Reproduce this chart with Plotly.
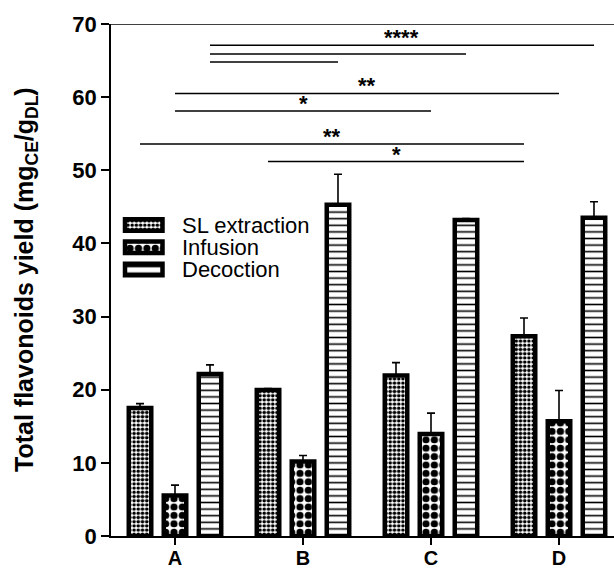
import plotly.graph_objects as go

# ---------------- data ----------------
categories = ["A", "B", "C", "D"]
series_names = ["SL extraction", "Infusion", "Decoction"]

sl_extraction = [17.5, 19.95, 21.95, 27.3]
sl_extraction_err = [0.6, 0.2, 1.75, 2.5]
infusion = [5.55, 10.2, 13.95, 15.7]
infusion_err = [1.4, 0.8, 2.85, 4.2]
decoction = [22.15, 45.3, 43.2, 43.5]
decoction_err = [1.25, 4.15, 0.2, 2.2]

y_ticks = [0, 10, 20, 30, 40, 50, 60, 70]

# significance comparisons (category, series) -> (category, series)
sig_start = [("A", "Decoction"), ("A", "Decoction"), ("A", "Decoction"),
             ("A", "Infusion"), ("A", "Infusion"),
             ("A", "SL extraction"), ("B", "SL extraction")]
sig_end = [("D", "Decoction"), ("C", "Decoction"), ("B", "Decoction"),
           ("D", "Infusion"), ("C", "Infusion"),
           ("D", "SL extraction"), ("D", "SL extraction")]
sig_labels = ["****", "", "", "**", "*", "**", "*"]
sig_levels = [67.1, 65.9, 64.8, 60.5, 58.1, 53.6, 51.2]

# ---------------- styles ----------------
FONT = "Liberation Sans, Arial, sans-serif"
W, H = 614, 568
ML, MR, MT, MB = 111, 0, 24, 32
PW, PH = W - ML - MR, H - MT - MB
LW = 4.5
BARGAP = 0.18
BARGROUPGAP = 0.357
patterns = {
    "SL extraction": dict(shape=".", size=4.2, solidity=0.55),
    "Infusion": dict(shape=".", size=8.4, solidity=0.58),
    "Decoction": dict(shape="-", size=6.6, solidity=0.24),
}
values = {"SL extraction": sl_extraction, "Infusion": infusion, "Decoction": decoction}
errors = {"SL extraction": sl_extraction_err, "Infusion": infusion_err, "Decoction": decoction_err}

def px_x(p):
    return (p - ML) / PW

def px_y(p):
    return (H - MB - p) / PH

x_idx = list(range(len(categories)))

fig = go.Figure()
for name in series_names:
    pat = patterns[name]
    fig.add_trace(go.Bar(
        x=x_idx, y=values[name], name=name, showlegend=False,
        marker=dict(color="white", line=dict(color="black", width=LW),
                    pattern=dict(shape=pat["shape"], size=pat["size"], solidity=pat["solidity"],
                                 fgcolor="black", bgcolor="white", fillmode="replace")),
        error_y=dict(type="data", array=errors[name], arrayminus=[0] * len(categories),
                     symmetric=False, color="black", thickness=1.6, width=4),
        hoverinfo="skip",
    ))

# custom legend swatches drawn as bars on a small auxiliary axis
fig.add_trace(go.Bar(
    x=[1] * len(series_names), y=series_names, orientation="h", xaxis="x2", yaxis="y2",
    width=0.52, showlegend=False, hoverinfo="skip",
    marker=dict(color="white", line=dict(color="black", width=LW),
                pattern=dict(shape=[patterns[n]["shape"] for n in series_names],
                             size=[patterns[n]["size"] for n in series_names],
                             solidity=[patterns[n]["solidity"] for n in series_names],
                             fgcolor="black", bgcolor="white", fillmode="replace")),
))

slot = (1 - BARGAP) / len(series_names)

def bar_center(cat, ser):
    return categories.index(cat) + (series_names.index(ser) - (len(series_names) - 1) / 2) * slot

shapes = [dict(type="line", xref="paper", yref="y", x0=0, x1=1, y0=70, y1=70,
               line=dict(color="black", width=1.6))]
annotations = []
for s, e, lab, lev in zip(sig_start, sig_end, sig_labels, sig_levels):
    x0, x1 = bar_center(*s), bar_center(*e)
    shapes.append(dict(type="line", xref="x", yref="y", x0=x0, x1=x1, y0=lev, y1=lev,
                       line=dict(color="black", width=1.6)))
    if lab:
        annotations.append(dict(x=(x0 + x1) / 2, y=lev, xref="x", yref="y", text=lab,
                                showarrow=False, yanchor="bottom", yshift=-7,
                                font=dict(family=FONT, size=22, color="black", weight="bold")))

for name in series_names:
    annotations.append(dict(x=px_x(180), y=name, xref="paper", yref="y2", text=name,
                            showarrow=False, xanchor="left", yanchor="middle",
                            font=dict(family=FONT, size=22, color="black")))

annotations.append(dict(x=px_x(26), y=0.5, xref="paper", yref="paper", textangle=-90,
                        text="Total flavonoids yield (mg<sub>CE</sub>/g<sub>DL</sub>)",
                        showarrow=False, xanchor="center", yanchor="middle",
                        font=dict(family=FONT, size=25, color="black", weight="bold")))

# legend axis geometry
lx0, lx1 = 125.0, 162.5
lxr = (-0.2, 1.2)
span = (lx1 - lx0)
dom_x = (px_x(lx0 + lxr[0] * span), px_x(lx0 + lxr[1] * span))
row_top, row_bot = 210.5, 284.0

fig.update_layout(
    width=W, height=H,
    margin=dict(l=ML, r=MR, t=MT, b=MB, autoexpand=False),
    paper_bgcolor="white", plot_bgcolor="rgba(0,0,0,0)",
    barmode="group", bargap=BARGAP, bargroupgap=BARGROUPGAP,
    font=dict(family=FONT, color="black"),
    showlegend=False,
    xaxis=dict(range=[-0.5, -0.5 + PW / 128], tickvals=x_idx, ticktext=categories,
               showline=True, linecolor="black", linewidth=1.6, ticks="outside",
               ticklen=7, tickwidth=1.6, tickcolor="black", showgrid=False, zeroline=False,
               ticklabelstandoff=-4,
               tickfont=dict(family=FONT, size=20, color="black", weight="bold")),
    yaxis=dict(range=[0, 70], tickvals=y_ticks, showline=True, linecolor="black",
               linewidth=1.6, ticks="outside", ticklen=8, tickwidth=1.6, tickcolor="black",
               showgrid=False, zeroline=False,
               tickfont=dict(family=FONT, size=22, color="black", weight="bold")),
    xaxis2=dict(domain=list(dom_x), range=list(lxr), anchor="y2", visible=False,
                fixedrange=True),
    yaxis2=dict(domain=[px_y(row_bot), px_y(row_top)], anchor="x2", visible=False,
                categoryorder="array", categoryarray=series_names[::-1], fixedrange=True),
    shapes=shapes,
    annotations=annotations,
)

fig.write_html("out.html", config={"displayModeBar": False},
               post_script="document.body.style.margin='0px';document.body.style.padding='0px';")
